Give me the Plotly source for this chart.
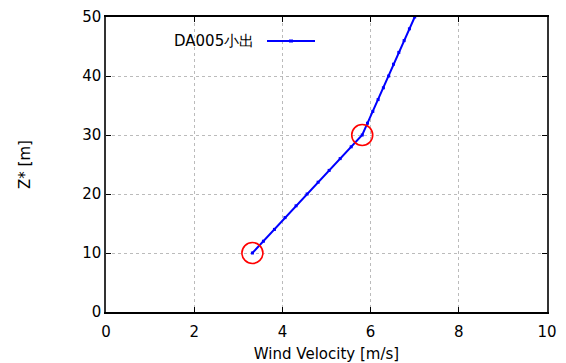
import plotly.graph_objects as go

# Data
height_m = [10, 12, 14, 16, 18, 20, 22, 24, 26, 28, 30, 32, 34, 36, 38, 40, 42, 44, 46, 48, 50]
wind_ms = [3.32, 3.57, 3.82, 4.06, 4.31, 4.56, 4.81, 5.06, 5.31, 5.56, 5.81,
           5.93, 6.05, 6.17, 6.29, 6.41, 6.52, 6.64, 6.76, 6.88, 7.00]
circle_heights = [10, 30]
circle_winds = [3.32, 5.81]
series_name = "DA005小出"
x_ticks = [0, 2, 4, 6, 8, 10]
y_ticks = [0, 10, 20, 30, 40, 50]

W, H = 566, 363
ML, MR, MT, MB = 106, 19, 17, 51
pw, ph = W - ML - MR, H - MT - MB

def px_x(p):
    return (p - ML) / pw

def px_y(p):
    return 1 - (p - MT) / ph

FONT = "DejaVu Sans, Liberation Sans, Arial, sans-serif"

fig = go.Figure()
fig.add_trace(go.Scatter(
    x=wind_ms, y=height_m, mode="lines+markers", name=series_name,
    line=dict(color="#0000ff", width=2),
    marker=dict(symbol="square", size=3, color="#0000ff"),
    showlegend=False,
))
fig.add_trace(go.Scatter(
    x=circle_winds, y=circle_heights, mode="markers",
    marker=dict(symbol="circle-open", size=21, color="#ff0000", line=dict(width=1.6)),
    showlegend=False,
))

# gnuplot-style key: text then line sample
fig.add_annotation(xref="paper", yref="paper", x=px_x(256), y=px_y(41),
                   text=series_name, showarrow=False, xanchor="right", yanchor="middle",
                   font=dict(family=FONT, size=15, color="#000"))
fig.add_shape(type="line", xref="paper", yref="paper",
              x0=px_x(267), x1=px_x(315), y0=px_y(41), y1=px_y(41),
              line=dict(color="#0000ff", width=2))
fig.add_shape(type="rect", xref="paper", yref="paper",
              x0=px_x(289), x1=px_x(293), y0=px_y(39.5), y1=px_y(42.5),
              fillcolor="#0000ff", line=dict(width=0))

tick_font = dict(family=FONT, size=15, color="#000")
title_font = dict(family=FONT, size=15, color="#000")
fig.update_xaxes(range=[0, 10], tickvals=x_ticks, showgrid=True, gridcolor="#bbbbbb",
                 griddash="dot", gridwidth=1, zeroline=False, showline=True, linecolor="#000",
                 linewidth=1.5, mirror="ticks", ticks="inside", ticklen=5, tickcolor="#000",
                 tickfont=tick_font, ticklabelstandoff=5, automargin=False,
                 title=dict(text="Wind Velocity [m/s]", font=title_font, standoff=11))
fig.update_yaxes(range=[0, 50], tickvals=y_ticks, showgrid=True, gridcolor="#bbbbbb",
                 griddash="dot", gridwidth=1, zeroline=False, showline=True, linecolor="#333",
                 linewidth=1.5, mirror="ticks", ticks="inside", ticklen=5, tickcolor="#000",
                 tickfont=tick_font, automargin=False,
                 title=dict(text="Z* [m]", font=title_font, standoff=48))
fig.update_layout(width=W, height=H, margin=dict(l=ML, r=MR, t=MT, b=MB, autoexpand=False),
                  plot_bgcolor="white", paper_bgcolor="white")
fig.write_html("out.html", config={"displayModeBar": False},
               post_script="document.body.style.margin='0';")
